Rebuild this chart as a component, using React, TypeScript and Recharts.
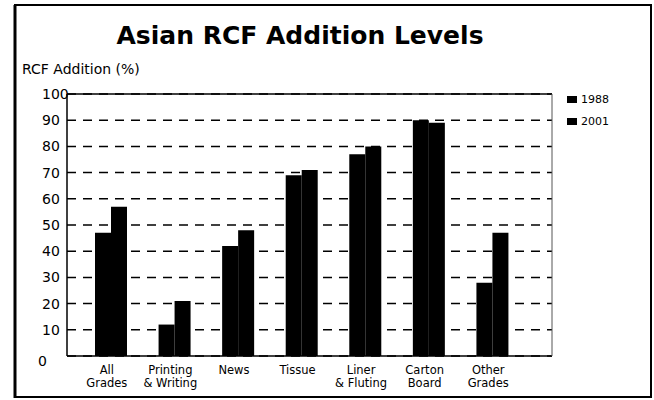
import React from 'react';
import { BarChart, Bar, XAxis, YAxis, CartesianGrid, ReferenceLine } from 'recharts';

const categories = ['All|Grades', 'Printing|& Writing', 'News', 'Tissue', 'Liner|& Fluting', 'Carton|Board', 'Other|Grades'];
const values1988 = [47, 12, 42, 69, 77, 90, 28];
const values2001 = [57, 21, 48, 71, 80, 89, 47];
const yTicks = [0, 10, 20, 30, 40, 50, 60, 70, 80, 90, 100];
const seriesNames = ['1988', '2001'];

const data = categories.map((name, i) => ({
  name,
  y1988: values1988[i],
  y2001: values2001[i],
}));

const font = '"DejaVu Sans", sans-serif';
const W = 654;
const H = 400;
const margin = { top: 94, right: 102, bottom: 0, left: 0 };

const YTick = (props: any) => {
  const { y, payload } = props;
  const dy = payload.value === 0 ? 10 : 5;
  return (
    <text x={payload.value === 0 ? 38 : 42} y={y + dy} fontSize={14} fontFamily={font} fill="#000">
      {payload.value}
    </text>
  );
};

const XTick = (props: any) => {
  const { x, y, payload } = props;
  const lines = String(payload.value).split('|');
  return (
    <g>
      {lines.map((l, i) => (
        <text key={i} x={x - 4} y={y + 10 + i * 13} textAnchor="middle" fontSize={11.5} fontFamily={font} fill="#000">
          {l}
        </text>
      ))}
    </g>
  );
};

export default function App() {
  return (
    <div style={{ position: 'absolute', left: 0, top: 0, width: W, height: H, background: '#fff' }}>
      <div
        style={{
          position: 'absolute',
          left: 0,
          width: 600,
          top: 21,
          textAlign: 'center',
          fontFamily: font,
          fontWeight: 'bold',
          fontSize: 25,
          color: '#000',
        }}
      >
        Asian RCF Addition Levels
      </div>
      <div style={{ position: 'absolute', left: 22, top: 61, fontFamily: font, fontSize: 14, color: '#000' }}>
        RCF Addition (%)
      </div>
      <div style={{ position: 'absolute', left: 0, top: 0 }}>
        <BarChart width={W} height={H} data={data} margin={margin} barGap={0} barCategoryGap={16}>
          <CartesianGrid horizontal vertical={false} stroke="#000" strokeDasharray="9 7" strokeWidth={1.5} />
          <XAxis
            dataKey="name"
            tick={<XTick />}
            tickLine={false}
            axisLine={{ stroke: '#000', strokeWidth: 1.5 }}
            interval={0}
            height={44}
            padding={{ left: 12, right: 28 }}
          />
          <YAxis
            domain={[0, 100]}
            ticks={yTicks}
            tick={<YTick />}
            tickLine={false}
            axisLine={{ stroke: '#000', strokeWidth: 1.5 }}
            width={67}
            interval={0}
          />
          <ReferenceLine y={100} stroke="#000" strokeWidth={1.5} />
          <Bar dataKey="y1988" name="1988" fill="#000" isAnimationActive={false} />
          <Bar dataKey="y2001" name="2001" fill="#000" isAnimationActive={false} />
        </BarChart>
      </div>
      <div style={{ position: 'absolute', left: 567, top: 88, fontFamily: font, fontSize: 11, color: '#000' }}>
        {seriesNames.map((n) => (
          <div key={n} style={{ display: 'flex', alignItems: 'center', height: 22 }}>
            <span style={{ display: 'inline-block', width: 10, height: 7, background: '#000', marginRight: 4 }} />
            {n}
          </div>
        ))}
      </div>
      {/* outer frame and right edge of the plot box */}
      <svg width={W} height={H} style={{ position: 'absolute', left: 0, top: 0, zIndex: 10, pointerEvents: 'none' }}>
        <line x1={14} y1={5} x2={652} y2={5} stroke="#000" strokeWidth={2} />
        <line x1={15} y1={5} x2={15} y2={398} stroke="#000" strokeWidth={3} />
        <line x1={651} y1={5} x2={651} y2={398} stroke="#000" strokeWidth={2} />
        <line x1={14} y1={397} x2={652} y2={397} stroke="#000" strokeWidth={2} />
        <line x1={W - margin.right} y1={margin.top} x2={W - margin.right} y2={H - 44} stroke="#555" strokeWidth={1} />
      </svg>
    </div>
  );
}
